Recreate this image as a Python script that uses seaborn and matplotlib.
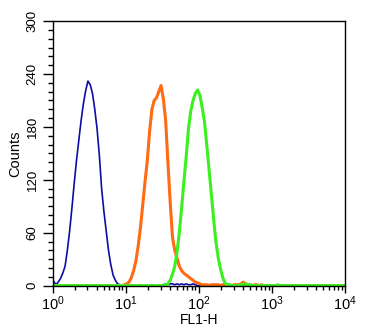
import numpy as np
import matplotlib
matplotlib.use("Agg")
import matplotlib.pyplot as plt
from matplotlib.ticker import MultipleLocator, LogLocator
import seaborn as sns

# Histogram channels: 128 log-spaced bins over 10^0 .. 10^4
n_channels = 128

# counts per channel, each series starts at the given channel
blue_start = 0
blue_counts = [5, 1, 4, 8, 14, 22, 40, 62, 88, 116,
               142, 165, 187, 206, 221, 232, 228, 218, 200, 178,
               148, 110, 84, 62, 40, 24, 12, 6, 2, 1,
               0, 1, 0, 0, 1, 0, 0, 0, 1, 0,
               0, 0, 0, 1, 0, 0, 1, 0, 1, 2,
               1, 2, 2, 1, 2, 1, 2, 1, 2, 1,
               1, 2, 1, 0]

orange_start = 31
orange_counts = [1, 2, 4, 9, 17, 28, 45, 66, 92, 118,
                 142, 175, 200, 210, 213, 220, 227, 212, 188, 140,
                 95, 55, 40, 31, 22, 17, 14, 12, 10, 8,
                 6, 4, 3, 2, 1, 1, 1, 0, 1, 1,
                 1, 1, 0, 1, 1, 1, 1, 0, 1, 1,
                 1, 2, 4, 2, 1, 1, 0, 1, 1, 0,
                 1]

green_start = 48
green_counts = [0, 1, 2, 6, 13, 22, 38, 60, 88, 118,
                146, 178, 198, 210, 218, 222, 216, 202, 186, 160,
                132, 104, 76, 50, 32, 19, 9, 3, 1, 1,
                0, 0, 0, 0, 1, 1, 2, 1, 1, 0,
                0, 0, 0, 0, 0, 0, 0, 0, 0, 0,
                1, 0]

series = [
    (blue_start, blue_counts, "#0d0da6", 1.2),
    (orange_start, orange_counts, "#ff6a13", 2.2),
    (green_start, green_counts, "#3cf020", 2.2),
]

sns.set_style("ticks")
plt.rcParams["font.family"] = ["Liberation Sans", "DejaVu Sans"]
plt.rcParams.update({
    "axes.linewidth": 1.0,
    "text.color": "black",
    "axes.labelcolor": "black",
    "xtick.color": "black",
    "ytick.color": "black",
    "axes.edgecolor": "black",
})

fig = plt.figure(figsize=(3.75, 3.36), dpi=100)
ax = fig.add_axes([0.140, 0.150, 0.780, 0.787])

edges = np.logspace(0, 4, n_channels + 1)
centers = np.sqrt(edges[:-1] * edges[1:])
x = np.concatenate([[edges[0]], centers, [edges[-1]]])
for start, counts, color, lw in series:
    full = np.zeros(n_channels)
    full[start:start + len(counts)] = counts
    y = np.concatenate([[full[0]], full, [full[-1]]])
    sns.lineplot(x=x, y=y, color=color, linewidth=lw, ax=ax, legend=False)

ax.set_xscale("log")
ax.set_xlim(1, 1e4)
ax.set_ylim(0, 300)
ax.yaxis.set_major_locator(MultipleLocator(60))
ax.yaxis.set_minor_locator(MultipleLocator(10))
ax.xaxis.set_major_locator(LogLocator(base=10))
ax.xaxis.set_minor_locator(LogLocator(base=10, subs=np.arange(2, 10)))

for s in ax.spines.values():
    s.set_visible(True)
    s.set_color("black")
    s.set_linewidth(1.0)

ax.tick_params(axis="y", which="major", length=7, width=1, direction="out",
               pad=3, labelsize=9.5, right=False)
ax.tick_params(axis="y", which="minor", length=3.5, width=1, direction="out",
               right=False)
ax.tick_params(axis="x", which="major", length=5, width=1, direction="out",
               pad=1.5, labelsize=10.5, top=False)
ax.tick_params(axis="x", which="minor", length=3, width=1, direction="out",
               top=False)
for lab in ax.get_yticklabels():
    lab.set_rotation(90)
    lab.set_va("center")

ax.set_xlabel("FL1-H", fontsize=10, labelpad=0)
ax.set_ylabel("Counts", fontsize=10.5, labelpad=3)

fig.savefig("out.png", dpi=100)
